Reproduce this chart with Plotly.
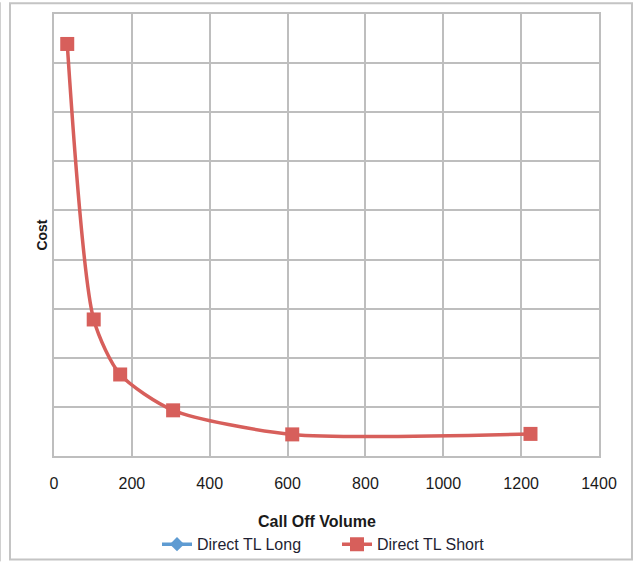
import plotly.graph_objects as go

# Data
call_off_volume = [34, 102, 170, 306, 612, 1224]
cost_short = [8.39, 2.78, 1.66, 0.93, 0.44, 0.45]
series_long = "Direct TL Long"
series_short = "Direct TL Short"
x_ticks = [0, 200, 400, 600, 800, 1000, 1200, 1400]

RED = "#D75F5B"
BLUE = "#5E9BD2"
GRID = "#BEBEBE"
FONT = "Liberation Sans, Arial, sans-serif"

fig = go.Figure()
fig.add_trace(go.Scatter(
    x=[None], y=[None], name=series_long, mode="lines+markers",
    line=dict(color=BLUE, width=3.5),
    marker=dict(symbol="diamond", size=11, color=BLUE),
))
fig.add_trace(go.Scatter(
    x=call_off_volume, y=cost_short, name=series_short, mode="lines+markers",
    line=dict(color=RED, width=3.5, shape="spline", smoothing=0.7),
    marker=dict(symbol="square", size=14, color=RED),
))

W, H = 633, 573
L, R, T, B = 54, 34, 12, 108
pw, ph = W - L - R, H - T - B

def px(xp):
    return (xp - L) / pw

def py(yp):
    return (H - B - yp) / ph

fig.update_layout(
    width=W, height=H,
    margin=dict(l=L, r=R, t=T, b=B),
    paper_bgcolor="white", plot_bgcolor="white",
    font=dict(family=FONT, size=16, color="#1a1a1a"),
    showlegend=True,
    legend=dict(orientation="h", x=px(157), xanchor="left", y=py(555.5), yanchor="middle",
                font=dict(size=16, color="#1f1f33"), itemwidth=30, tracegroupgap=0,
                entrywidth=135, entrywidthmode="pixels",
                bgcolor="rgba(0,0,0,0)"),
    xaxis=dict(range=[0, 1400], tickvals=x_ticks, showgrid=True, gridcolor=GRID, gridwidth=2,
               showline=True, linecolor=GRID, linewidth=2, mirror=True, zeroline=False,
               ticks="outside", ticklen=12, tickcolor="rgba(0,0,0,0)",
               tickfont=dict(size=16, color="#1a1a1a")),
    yaxis=dict(range=[0, 9], dtick=1, showgrid=True, gridcolor=GRID, gridwidth=2,
               showline=True, linecolor=GRID, linewidth=2, mirror=True, zeroline=False,
               showticklabels=False),
    annotations=[
        dict(text="<b>Call Off Volume</b>", xref="paper", yref="paper", x=px(317), y=py(532),
             xanchor="center", yanchor="middle", showarrow=False, font=dict(size=16, color="#1a1a1a")),
        dict(text="<b>Cost</b>", xref="paper", yref="paper", x=px(41.6), y=0.5, textangle=-90,
             xanchor="center", yanchor="middle", showarrow=False, font=dict(size=14, color="#1a1a1a")),
    ],
    shapes=[
        dict(type="rect", xref="paper", yref="paper", x0=px(10), x1=px(632), y0=py(571), y1=py(1),
             line=dict(color="#C4C4C4", width=2), layer="below"),
        dict(type="line", xref="paper", yref="paper", x0=px(0.5), x1=px(0.5), y0=py(573), y1=py(0),
             line=dict(color="#D0D0D0", width=1), layer="below"),
    ],
)

fig.write_html("out.html")
